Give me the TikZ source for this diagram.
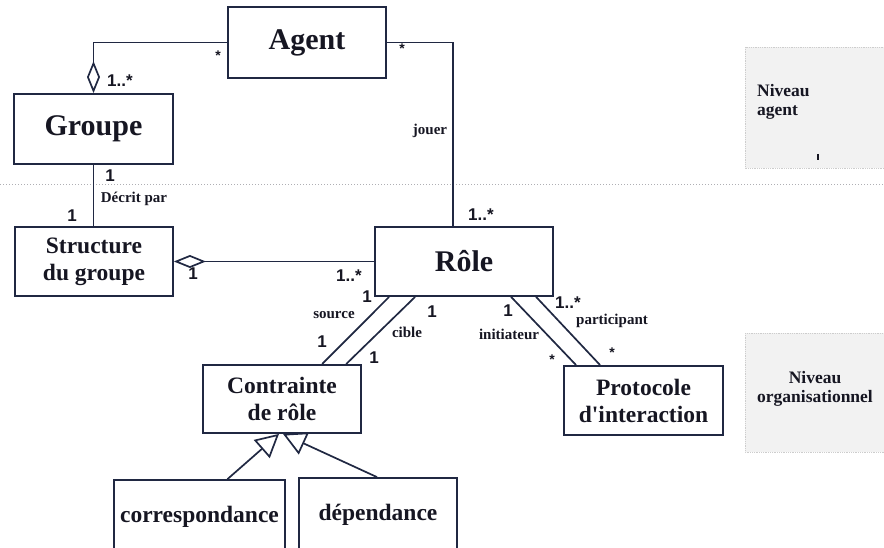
\documentclass[tikz,border=0pt]{standalone}
\usepackage{fontspec}
\setmainfont{Liberation Serif}
\newfontfamily\multfont{Liberation Sans}
\usetikzlibrary{arrows.meta}

\definecolor{lineC}{RGB}{32,40,66}
\definecolor{textC}{RGB}{22,22,34}
\definecolor{levelFill}{RGB}{242,242,242}
\definecolor{levelEdge}{RGB}{205,205,205}
\definecolor{sepC}{RGB}{175,175,180}

\tikzset{
  cls/.style={draw=lineC, line width=1.8pt, fill=white, text=textC,
    font=\bfseries\fontsize{23.5}{27}\selectfont, align=center, inner sep=0pt},
  bigcls/.style={cls, font=\bfseries\fontsize{30}{32}\selectfont},
  mult/.style={font=\multfont\bfseries\fontsize{17}{17}\selectfont, text=textC, inner sep=0pt},
  star/.style={font=\multfont\bfseries\fontsize{14}{14}\selectfont, text=textC, inner sep=0pt},
  lbl/.style={font=\bfseries\fontsize{15}{15}\selectfont, text=textC, inner sep=0pt},
  assoc/.style={draw=lineC, line width=1.7pt},
  aggr/.style={assoc, -{Diamond[open, length=32pt, width=13pt]}},
  aggrstart/.style={assoc, {Diamond[open, length=32pt, width=13pt]}-},
  generalize/.style={assoc, -{Triangle[open, length=23pt, width=24pt]}},
  levelbox/.style={fill=levelFill, draw=levelEdge, densely dotted, line width=0.8pt},
  leveltext/.style={font=\bfseries\fontsize{17.5}{18.5}\selectfont, text=textC, inner sep=0pt},
  separator/.style={draw=sepC, dotted, line width=1pt}
}

\begin{document}
\begin{tikzpicture}[x=1pt, y=-1pt]
  \useasboundingbox (0,0) rectangle (884,548);
  \clip (0,0) rectangle (884,548);
  \fill[white] (0,0) rectangle (884,548);

  % level panels and the separation between the two levels
  \path[levelbox] (745,47) rectangle (892,168);
  \path[levelbox] (745,333) rectangle (892,452);
  \node[leveltext, align=left, anchor=west] (lvagent) at (757,102) {Niveau\\agent};
  \node[leveltext, align=center] (lvorga) at (815,389) {Niveau\\organisationnel};
  \draw[textC, line width=1.8pt] (818,154) -- (818,160);
  \draw[separator] (0,185) -- (884,185);

  % classes
  \node[bigcls, minimum width=158pt, minimum height=71pt] (agent) at (307,42.5) {Agent};
  \node[bigcls, minimum width=159pt, minimum height=70pt] (groupe) at (93.5,129) {Groupe};
  \node[cls, minimum width=158pt, minimum height=69pt] (struct) at (94,261.5) {Structure\\du groupe};
  \node[bigcls, minimum width=178pt, minimum height=69pt] (role) at (464,261.5) {Rôle};
  \node[cls, minimum width=158pt, minimum height=68pt] (contr) at (282,399) {Contrainte\\de rôle};
  \node[cls, minimum width=159pt, minimum height=69pt] (proto) at (643.5,400.5) {Protocole\\d\textquotesingle interaction};
  \node[cls, minimum width=171pt, minimum height=74pt] (corr) at (199.5,517) {correspondance};
  \node[cls, minimum width=158pt, minimum height=74pt] (dep) at (378,515) {dépendance};

  % attachment points on the role class
  \path (role.south west) ++(15,0) coordinate (rSrc)
        (role.south west) ++(41,0) coordinate (rCib)
        (role.south west) ++(137,0) coordinate (rIni)
        (role.south west) ++(162,0) coordinate (rPar);
  \path (contr.north west) ++(120,0) coordinate (cSrc)
        (contr.north west) ++(144,0) coordinate (cCib);
  \path (proto.north west) ++(13,0) coordinate (pIni)
        (proto.north west) ++(37,0) coordinate (pPar);

  % associations
  \draw[aggr] (agent.west) -| (groupe.north);
  \draw[assoc] (agent.east) -| ([xshift=-11pt]role.north);
  \draw[assoc] (groupe.south) -- (groupe.south |- struct.north);
  \draw[aggrstart] (struct.east) -- (struct.east -| role.west);
  \draw[assoc] (rSrc) -- (cSrc);
  \draw[assoc] (rCib) -- (cCib);
  \draw[assoc] (rIni) -- (pIni);
  \draw[assoc] (rPar) -- (pPar);

  % specializations of the role constraint
  \draw[generalize] ([xshift=28pt]corr.north) -- ([xshift=-3pt]contr.south);
  \draw[generalize] ([xshift=-1pt]dep.north) -- ([xshift=1pt]contr.south);

  % multiplicities
  \node[star] (mAgL) at (218,56) {*};
  \node[mult] (mGrA) at (120,81) {1..*};
  \node[star] (mAgR) at (402,49) {*};
  \node[mult] (mRoA) at (481,215) {1..*};
  \node[mult] (mGrS) at (110,176) {1};
  \node[mult] (mStG) at (72,216) {1};
  \node[mult] (mStR) at (193,274) {1};
  \node[mult] (mRoS) at (349,276) {1..*};
  \node[mult] (mSrT) at (367,297) {1};
  \node[mult] (mSrB) at (322,342) {1};
  \node[mult] (mCiT) at (432,312) {1};
  \node[mult] (mCiB) at (374,358) {1};
  \node[mult] (mInT) at (508,311) {1};
  \node[star] (mInB) at (552,360) {*};
  \node[mult] (mPaT) at (568,303) {1..*};
  \node[star] (mPaB) at (612,353) {*};

  % role names
  \node[lbl] (lJouer) at (430,131) {jouer};
  \node[lbl] (lDecrit) at (134,199) {Décrit par};
  \node[lbl] (lSource) at (334,315) {source};
  \node[lbl] (lCible) at (407,332) {cible};
  \node[lbl] (lInit) at (509,334) {initiateur};
  \node[lbl] (lPart) at (612,321) {participant};
\end{tikzpicture}
\end{document}
